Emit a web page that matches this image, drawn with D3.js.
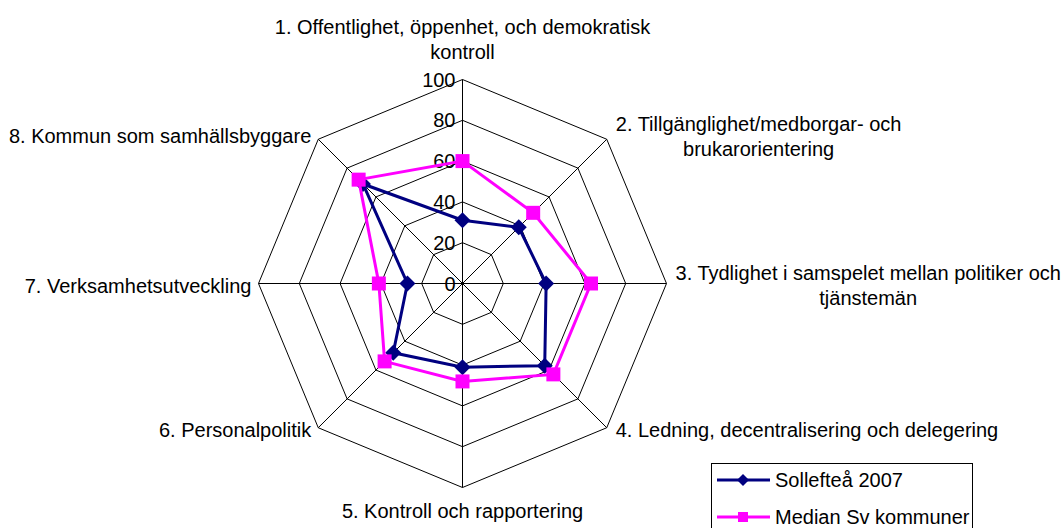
<!DOCTYPE html>
<html>
<meta charset="utf-8">
<style>
body {
  margin: 0;
  background: #fff;
  font-family: 'Liberation Sans', Arial, sans-serif;
}
.grid line, .grid polygon {
  fill: none;
  stroke: #000;
  stroke-width: 1;
}
.lbl, .tick {
  font-size: 20px;
  fill: #000;
}
</style>
<body>
<script src="https://cdn.jsdelivr.net/npm/d3@7/dist/d3.min.js"></script>
<script>
var w = 1064;
var h = 528;

// categories (multi-line labels split by |)
var categories = [
  "1. Offentlighet, öppenhet, och demokratisk|kontroll",
  "2. Tillgänglighet/medborgar- och|brukarorientering",
  "3. Tydlighet i samspelet mellan politiker och|tjänstemän",
  "4. Ledning, decentralisering och delegering",
  "5. Kontroll och rapportering",
  "6. Personalpolitik",
  "7. Verksamhetsutveckling",
  "8. Kommun som samhällsbyggare"
];
var sollefteaValues = [31, 39, 41, 57, 41, 48, 27, 69];
var medianValues = [60, 49, 63, 63, 48, 54, 41, 72];
var ticks = [0, 20, 40, 60, 80, 100];
var seriesNames = ["Sollefteå 2007", "Median Sv kommuner"];

var cx = 462.5, cy = 283.5;
var r = d3.scaleLinear().domain([0, 100]).range([0, 204]);
var angle = function(i) { return i * 2 * Math.PI / categories.length; };
var px = function(i, v) { return cx + r(v) * Math.sin(angle(i)); };
var py = function(i, v) { return cy - r(v) * Math.cos(angle(i)); };

var svg = d3.select("body")
  .append("svg")
  .attr("width", w)
  .attr("height", h);

// grid rings and spokes
var grid = svg.append("g").attr("class", "grid");
grid.selectAll("polygon")
  .data(ticks.slice(1))
  .enter()
  .append("polygon")
  .attr("points", function(t) {
    return categories.map(function(c, i) { return px(i, t) + "," + py(i, t); }).join(" ");
  });
grid.selectAll("line")
  .data(categories)
  .enter()
  .append("line")
  .attr("x1", cx).attr("y1", cy)
  .attr("x2", function(d, i) { return px(i, 100); })
  .attr("y2", function(d, i) { return py(i, 100); });

// tick labels
svg.selectAll(".tick")
  .data(ticks)
  .enter()
  .append("text")
  .attr("class", "tick")
  .attr("x", cx - 7)
  .attr("y", function(t) { return cy - r(t); })
  .attr("dy", ".35em")
  .style("text-anchor", "end")
  .text(function(t) { return t; });

// category labels
var lineH = 25;
categories.forEach(function(c, i) {
  var lines = c.split("|");
  var g = svg.append("g");
  var t = g.append("text").attr("class", "lbl").style("text-anchor", "middle");
  lines.forEach(function(l, k) {
    t.append("tspan").attr("x", 0).attr("y", k * lineH).attr("dy", ".35em").text(l);
  });
  var bw = d3.max(t.selectAll("tspan").nodes(), function(n) { return n.getComputedTextLength(); });
  var bh = (lines.length - 1) * lineH;
  var x0 = px(i, 100), y0 = py(i, 100);
  var s = Math.round(Math.sin(angle(i)) * 100) / 100;
  var tx, ty;
  if (s > 0) { tx = x0 + 9 + bw / 2; ty = y0 - bh / 2 + (i == 1 ? -3 : 2); }
  else if (s < 0) { tx = x0 - 7 - bw / 2; ty = y0 - bh / 2 + (i == 7 ? -3 : 2); }
  else if (i == 0) { tx = x0; ty = y0 - 28 - bh; }
  else { tx = x0; ty = y0 + 23; }
  g.attr("transform", "translate(" + tx + "," + ty + ")");
});

// series
var colors = ["#000080", "#ff00ff"];
var allSeries = [sollefteaValues, medianValues];
var lineGen = d3.lineRadial()
  .angle(function(d, i) { return angle(i); })
  .radius(function(d) { return r(d); })
  .curve(d3.curveLinearClosed);

allSeries.forEach(function(vals, s) {
  var g = svg.append("g").attr("transform", "translate(" + cx + "," + cy + ")");
  g.append("path")
    .attr("d", lineGen(vals))
    .style("fill", "none")
    .style("stroke", colors[s])
    .style("stroke-width", 3);
  g.selectAll(".m")
    .data(vals)
    .enter()
    .append("path")
    .attr("transform", function(d, i) {
      return "translate(" + (px(i, d) - cx) + "," + (py(i, d) - cy) + ")";
    })
    .attr("d", s == 0 ? "M0,-8L8,0L0,8L-8,0Z" : "M-7,-7H7V7H-7Z")
    .style("fill", colors[s]);
});

// legend
var lg = svg.append("g").attr("transform", "translate(711,463)");
lg.append("rect")
  .attr("x", 0.5).attr("y", 0.5)
  .attr("width", 261).attr("height", 80)
  .style("fill", "#fff")
  .style("stroke", "#000");
var items = lg.selectAll(".item")
  .data(seriesNames)
  .enter()
  .append("g")
  .attr("transform", function(d, i) { return "translate(0," + (17 + i * 37) + ")"; });
items.append("line")
  .attr("x1", 6).attr("x2", 59)
  .style("stroke", function(d, i) { return colors[i]; })
  .style("stroke-width", 3);
items.append("path")
  .attr("transform", "translate(32,0)")
  .attr("d", function(d, i) { return i == 0 ? "M0,-6L6,0L0,6L-6,0Z" : "M-5,-5H5V5H-5Z"; })
  .style("fill", function(d, i) { return colors[i]; });
items.append("text")
  .attr("class", "lbl")
  .attr("x", 64)
  .attr("dy", ".35em")
  .text(function(d) { return d; });
</script>
</body>
</html>
